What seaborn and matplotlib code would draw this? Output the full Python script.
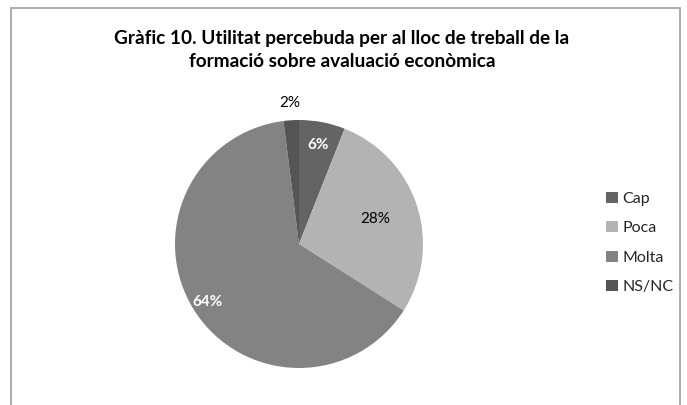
import numpy as np
import matplotlib
matplotlib.use("Agg")
import matplotlib.pyplot as plt
import seaborn as sns
from matplotlib.patches import Rectangle

# Data
categories = ["Cap", "Poca", "Molta", "NS/NC"]
values = [6, 28, 64, 2]
pct_labels = ["6%", "28%", "64%", "2%"]
colors = ["#646464", "#b3b3b3", "#838383", "#555555"]
title = "Gràfic 10. Utilitat percebuda per al lloc de treball de la\nformació sobre avaluació econòmica"

sns.set_theme(style="white")
plt.rcParams["font.family"] = ["Lato", "DejaVu Sans"]

fig = plt.figure(figsize=(6.87, 4.05), dpi=100)
fig.patch.set_facecolor("white")

# pie axes: center (299,244) px from top-left, radius 124 px
W, H = 687, 405
cx, cy, r = 299, 244, 124
ax = fig.add_axes([(cx - r) / W, (H - cy - r) / H, 2 * r / W, 2 * r / H])
wedges, _ = ax.pie(values, colors=colors, startangle=90, counterclock=False,
                   radius=1, wedgeprops=dict(linewidth=0))
ax.set_xlim(-1, 1)
ax.set_ylim(-1, 1)
ax.set_aspect("equal")
ax.axis("off")

# data labels
dists = [0.81, 0.65, 0.87, 1.14]
styles = [("white", "bold"), ("black", "normal"), ("white", "bold"), ("black", "normal")]
for w, lab, d, (c, fw) in zip(wedges, pct_labels, dists, styles):
    mid = np.deg2rad((w.theta1 + w.theta2) / 2)
    ax.text(d * np.cos(mid), d * np.sin(mid), lab, ha="center", va="center",
            color=c, fontweight=fw, fontsize=11, clip_on=False)

# title
fig.text(342 / W, 1 - 50 / H, title, ha="center", va="center",
         fontsize=13.7, fontweight="bold", color="#000000", linespacing=1.45)

# legend
fig.legend(wedges, categories, loc="center left",
           bbox_to_anchor=(592 / W, 1 - 243 / H), frameon=False,
           fontsize=11.5, handlelength=0.7, handleheight=0.7,
           handletextpad=0.3, labelspacing=0.95)

# outer border
fig.patches.append(Rectangle((10.5 / W, -0.05), 669 / W, 1.05 - 7.5 / H,
                             transform=fig.transFigure, fill=False,
                             edgecolor="#a6a6a6", linewidth=1.3))

fig.savefig("out.png", dpi=100)
